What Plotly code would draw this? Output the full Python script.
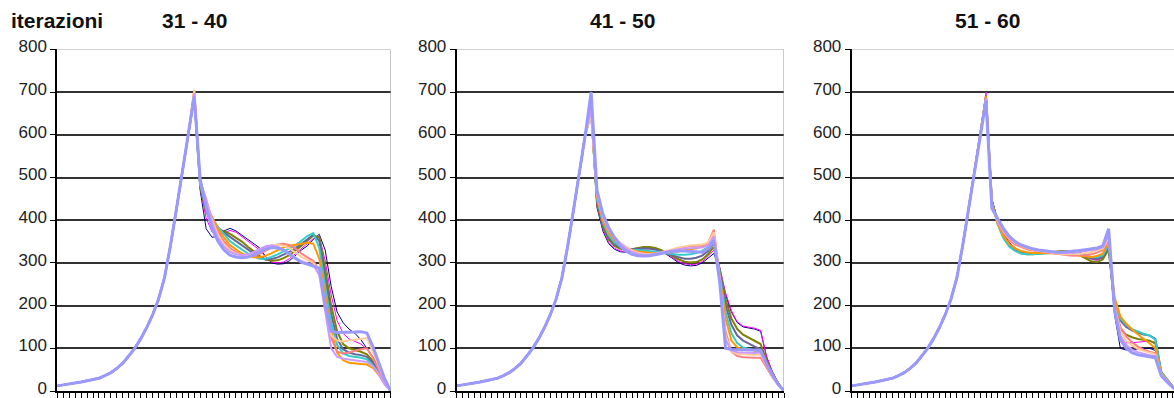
import plotly.graph_objects as go

# Iteration batches shown side by side
PANEL_TITLES = ["31 - 40", "41 - 50", "51 - 60"]
HEADER = "iterazioni"

# One colour / width per iteration inside a batch (first -> last)
COLORS = ["#000080", "#FF00FF", "#808000", "#666699", "#33CCCC",
          "#FF9900", "#FF8080", "#FFCC99", "#CC99FF", "#9999FF"]
WIDTHS = [1, 1, 2, 2, 2, 2, 2, 2, 2, 3]

# Rising flank, positions 0..22 (identical for every iteration)
RISE = [12, 14, 16, 19, 21, 24, 27, 30, 36, 43, 53, 65, 82, 100, 122,
        148, 178, 215, 265, 340, 425, 510, 600]

# Peak value at position 23
P1_PEAK = [690, 695, 692, 688, 695, 700, 705, 705, 698, 690]
P2_PEAK = [660, 665, 660, 655, 650, 655, 650, 648, 660, 700]
P3_PEAK = [690, 700, 692, 688, 685, 690, 685, 682, 686, 680]

# Values after the peak, positions 24..56
P1_TAIL = [
    [470, 380, 360, 362, 375, 381, 375, 365, 355, 347, 335, 315, 300, 297, 298, 305, 318, 330, 340, 355, 367, 330, 245, 185, 160, 145, 135, 120, 100, 80, 55, 25, 0],
    [475, 405, 372, 365, 370, 376, 372, 362, 352, 342, 330, 314, 302, 300, 302, 310, 322, 334, 345, 357, 362, 305, 225, 165, 135, 122, 116, 110, 98, 78, 52, 24, 0],
    [478, 420, 390, 378, 374, 368, 360, 350, 338, 327, 316, 308, 305, 306, 311, 318, 328, 340, 352, 364, 360, 285, 200, 140, 110, 100, 96, 92, 86, 70, 48, 22, 0],
    [480, 428, 398, 382, 371, 361, 351, 341, 331, 321, 312, 308, 309, 313, 319, 326, 334, 344, 356, 366, 352, 265, 180, 122, 98, 90, 86, 84, 80, 66, 44, 20, 0],
    [482, 435, 405, 384, 367, 351, 341, 331, 322, 315, 310, 310, 314, 320, 327, 334, 341, 352, 363, 370, 335, 245, 160, 108, 88, 82, 80, 78, 74, 60, 42, 18, 0],
    [485, 440, 407, 380, 359, 342, 331, 322, 316, 313, 313, 317, 323, 330, 336, 340, 343, 345, 347, 345, 310, 225, 140, 90, 72, 66, 64, 63, 62, 54, 38, 16, 0],
    [488, 445, 404, 372, 350, 335, 325, 318, 315, 316, 321, 329, 337, 343, 345, 342, 334, 322, 313, 305, 282, 205, 125, 92, 88, 90, 94, 98, 100, 78, 50, 22, 0],
    [490, 448, 400, 365, 343, 330, 322, 318, 318, 321, 327, 335, 341, 343, 340, 334, 324, 314, 307, 300, 278, 200, 130, 118, 116, 118, 120, 122, 124, 92, 58, 25, 0],
    [492, 450, 395, 358, 338, 326, 320, 318, 320, 326, 333, 339, 341, 338, 331, 321, 311, 304, 299, 295, 272, 190, 100, 80, 76, 74, 72, 70, 68, 58, 40, 15, 0],
    [495, 430, 380, 350, 330, 318, 314, 312, 314, 319, 326, 333, 336, 335, 330, 320, 309, 301, 297, 293, 288, 200, 140, 137, 137, 137, 138, 139, 136, 104, 66, 28, 0],
]

P2_TAIL = [
    [430, 375, 345, 332, 326, 325, 327, 331, 334, 335, 333, 328, 320, 310, 300, 295, 293, 294, 300, 312, 322, 285, 225, 185, 160, 150, 147, 145, 140, 80, 45, 20, 0],
    [435, 380, 348, 334, 328, 327, 329, 332, 335, 336, 334, 329, 321, 312, 303, 298, 296, 297, 303, 315, 330, 290, 230, 188, 162, 152, 149, 147, 142, 82, 46, 20, 0],
    [440, 385, 355, 340, 333, 331, 332, 335, 337, 337, 335, 330, 323, 315, 308, 303, 301, 302, 308, 320, 338, 285, 215, 170, 145, 132, 125, 118, 110, 72, 42, 18, 0],
    [445, 390, 360, 344, 336, 333, 332, 333, 334, 333, 331, 327, 322, 317, 313, 310, 310, 312, 317, 328, 348, 280, 200, 155, 130, 118, 110, 104, 98, 66, 40, 17, 0],
    [450, 395, 365, 348, 339, 334, 331, 330, 329, 328, 326, 324, 322, 320, 319, 319, 320, 323, 328, 337, 358, 275, 185, 135, 112, 102, 98, 95, 93, 62, 38, 16, 0],
    [455, 400, 370, 353, 342, 335, 330, 327, 325, 324, 323, 323, 324, 325, 327, 329, 331, 334, 338, 345, 368, 270, 170, 118, 102, 98, 96, 95, 94, 62, 38, 16, 0],
    [460, 405, 375, 358, 346, 337, 330, 325, 322, 321, 321, 323, 326, 330, 334, 337, 339, 340, 341, 346, 378, 265, 140, 92, 82, 79, 78, 78, 78, 55, 33, 14, 0],
    [462, 408, 378, 360, 347, 337, 329, 324, 321, 321, 322, 325, 328, 332, 336, 339, 341, 342, 343, 347, 372, 262, 130, 92, 87, 86, 85, 85, 86, 60, 35, 15, 0],
    [465, 410, 380, 361, 345, 334, 326, 321, 319, 319, 321, 324, 327, 330, 332, 334, 335, 335, 336, 341, 362, 258, 120, 95, 91, 90, 89, 89, 90, 62, 36, 15, 0],
    [470, 415, 383, 359, 339, 327, 320, 317, 316, 317, 319, 322, 325, 327, 328, 328, 327, 325, 325, 333, 352, 255, 100, 97, 97, 97, 97, 96, 95, 64, 38, 16, 0],
]

P3_TAIL = [
    [450, 400, 368, 348, 335, 327, 323, 322, 322, 323, 325, 326, 327, 328, 328, 325, 318, 311, 308, 312, 335, 180, 100, 96, 97, 98, 100, 100, 95, 40, 24, 9, 0],
    [448, 398, 365, 345, 332, 325, 321, 321, 322, 323, 325, 326, 327, 327, 326, 322, 315, 309, 306, 312, 338, 185, 115, 113, 113, 114, 116, 117, 110, 42, 25, 9, 0],
    [446, 395, 362, 342, 330, 323, 320, 320, 321, 323, 325, 327, 328, 327, 324, 318, 310, 304, 302, 308, 332, 200, 145, 132, 126, 122, 120, 118, 112, 44, 26, 10, 0],
    [444, 393, 360, 340, 329, 323, 321, 321, 322, 323, 324, 325, 326, 326, 324, 320, 315, 311, 309, 314, 336, 210, 165, 150, 142, 136, 132, 130, 122, 45, 27, 10, 0],
    [442, 390, 357, 338, 328, 322, 320, 320, 321, 322, 323, 324, 325, 325, 324, 321, 317, 314, 313, 318, 342, 215, 170, 155, 145, 139, 134, 130, 120, 44, 26, 10, 0],
    [440, 392, 362, 344, 334, 328, 325, 323, 323, 323, 323, 323, 322, 321, 319, 317, 315, 314, 316, 322, 352, 220, 175, 158, 144, 132, 122, 112, 100, 42, 25, 9, 0],
    [436, 395, 370, 353, 343, 337, 332, 329, 327, 325, 323, 321, 319, 318, 317, 317, 318, 320, 324, 330, 356, 205, 150, 128, 114, 104, 97, 92, 88, 40, 24, 9, 0],
    [432, 398, 374, 357, 347, 340, 335, 331, 328, 326, 324, 322, 321, 320, 320, 321, 323, 325, 329, 334, 360, 200, 140, 118, 106, 99, 94, 90, 86, 39, 23, 8, 0],
    [430, 400, 376, 359, 348, 341, 336, 332, 329, 327, 325, 324, 323, 323, 324, 326, 328, 330, 332, 337, 366, 195, 130, 108, 97, 91, 87, 84, 82, 38, 22, 8, 0],
    [428, 403, 380, 362, 350, 342, 337, 333, 330, 328, 326, 325, 325, 326, 327, 329, 331, 333, 335, 340, 380, 190, 120, 100, 90, 85, 82, 80, 78, 36, 21, 8, 0],
]

Y_TICKS = [0, 100, 200, 300, 400, 500, 600, 700, 800]

W, H = 1174, 398
FONT = "Liberation Sans, Arial, sans-serif"

# pixel layout of the three plot areas
X_DOMAINS = [(57.3, 390.7), (456.7, 784.0), (851.7, 1174.0)]
X_RANGES = [(0, 56), (0, 56), (0, 55.19)]
Y_BOTTOM, Y_TOP = 391.0, 49.4

fig = go.Figure()

panels = [(P1_PEAK, P1_TAIL), (P2_PEAK, P2_TAIL), (P3_PEAK, P3_TAIL)]
for p, (peaks, tails) in enumerate(panels):
    suffix = "" if p == 0 else str(p + 1)
    for k in range(len(COLORS)):
        ys = RISE + [peaks[k]] + tails[k]
        fig.add_trace(go.Scatter(
            x=list(range(len(ys))), y=ys, mode="lines",
            line=dict(color=COLORS[k], width=WIDTHS[k]),
            xaxis="x" + suffix, yaxis="y" + suffix,
            showlegend=False, hoverinfo="skip",
        ))

layout = dict(
    width=W, height=H,
    margin=dict(l=0, r=0, t=0, b=0, autoexpand=False),
    paper_bgcolor="white", plot_bgcolor="white",
    font=dict(family=FONT, color="#111"),
    shapes=[], annotations=[],
)

ydom = [(H - Y_BOTTOM) / H, (H - Y_TOP) / H]
for p in range(3):
    suffix = "" if p == 0 else str(p + 1)
    x0, x1 = X_DOMAINS[p]
    layout["xaxis" + suffix] = dict(
        domain=[x0 / W, x1 / W], range=list(X_RANGES[p]),
        anchor="y" + suffix, automargin=False,
        showgrid=False, zeroline=False, showticklabels=False,
        showline=True, linecolor="#000", linewidth=2,
        ticks="outside", ticklen=5, tickwidth=1, tickcolor="#000",
        tick0=0, dtick=1, fixedrange=True,
    )
    layout["yaxis" + suffix] = dict(
        domain=ydom, range=[0, 800], anchor="x" + suffix, automargin=False,
        tickvals=Y_TICKS, ticktext=[str(v) for v in Y_TICKS],
        showgrid=True, gridcolor="#333", gridwidth=2,
        zeroline=False, showline=True, linecolor="#000", linewidth=2,
        ticks="outside", ticklen=5, tickwidth=1, tickcolor="#000",
        tickfont=dict(family=FONT, size=17, color="#222"),
        ticklabeloverflow="allow", ticklabelshift=-3,
        fixedrange=True,
    )
    xr = X_RANGES[p]
    # light grey frame on top (and on the right where visible)
    layout["shapes"].append(dict(type="line", xref="x" + suffix, yref="y" + suffix,
                                 x0=xr[0], x1=xr[1], y0=800, y1=800,
                                 line=dict(color="white", width=3), layer="above"))
    layout["shapes"].append(dict(type="line", xref="x" + suffix, yref="y" + suffix,
                                 x0=xr[0], x1=xr[1], y0=800, y1=800,
                                 line=dict(color="#999", width=1), layer="above"))
    if p < 2:
        layout["shapes"].append(dict(type="line", xref="x" + suffix, yref="y" + suffix,
                                     x0=xr[1], x1=xr[1], y0=0, y1=800,
                                     line=dict(color="#999", width=1), layer="above"))

title_centres = [194, 622, 987]
for p, t in enumerate(PANEL_TITLES):
    layout["annotations"].append(dict(
        text="<b>%s</b>" % t, xref="paper", yref="paper",
        x=title_centres[p] / W, y=(H - 20) / H, xanchor="center", yanchor="middle",
        showarrow=False, font=dict(family=FONT, size=21, color="#111"),
    ))
layout["annotations"].append(dict(
    text="<b>%s</b>" % HEADER, xref="paper", yref="paper",
    x=9 / W, y=(H - 20) / H, xanchor="left", yanchor="middle",
    showarrow=False, font=dict(family=FONT, size=21, color="#111"),
))

fig.update_layout(**layout)
fig.write_html("out.html")
